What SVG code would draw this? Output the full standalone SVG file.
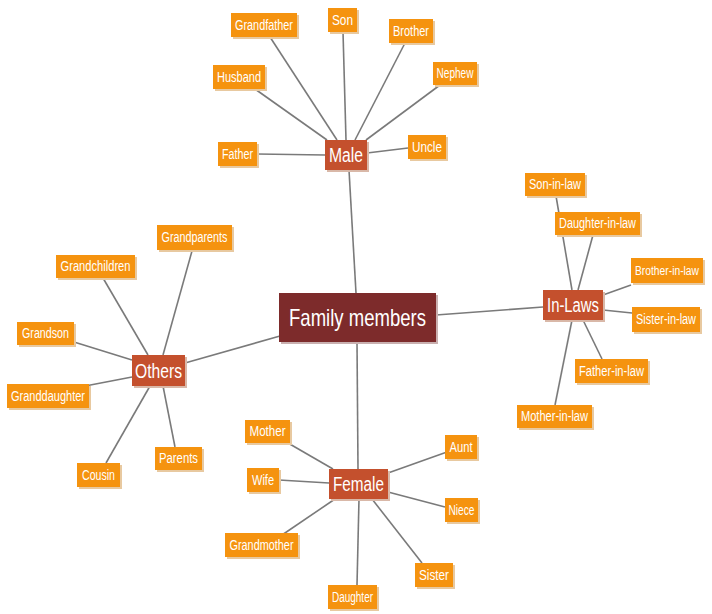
<svg xmlns="http://www.w3.org/2000/svg" width="712" height="614" viewBox="0 0 712 614">
<defs>
<style>
.leaf rect.b{fill:#F5930F;}
.leaf rect.s{fill:#E8C9A0;}
.leaf text{font-family:"Liberation Sans Narrow","Liberation Sans",Arial,sans-serif;font-size:14px;fill:#fff;text-anchor:middle;}
.hub rect.b{fill:#C4502D;}
.hub rect.s{fill:#D9B8A8;}
.hub text{font-family:"Liberation Sans Narrow","Liberation Sans",Arial,sans-serif;font-size:20px;fill:#fff;text-anchor:middle;}
.root rect.b{fill:#7D2B2B;}
.root rect.s{fill:#C9B0B0;}
.root text{font-family:"Liberation Sans Narrow","Liberation Sans",Arial,sans-serif;font-size:24px;fill:#fff;text-anchor:middle;}
#connectors line{stroke:#7A7A7A;stroke-width:1.6;}
</style>
</defs>
<rect width="712" height="614" fill="#fff"/>
<g id="connectors">
<line x1="349" y1="170" x2="356" y2="293"/>
<line x1="357" y1="342" x2="358" y2="469"/>
<line x1="185" y1="363" x2="280" y2="336"/>
<line x1="436" y1="315" x2="543" y2="307"/>
<line x1="257" y1="154" x2="325" y2="155"/>
<line x1="367" y1="153" x2="408" y2="148"/>
<line x1="270" y1="37" x2="337" y2="140"/>
<line x1="255" y1="89" x2="327" y2="140"/>
<line x1="343" y1="32" x2="346" y2="140"/>
<line x1="405" y1="43" x2="355" y2="140"/>
<line x1="440" y1="85" x2="366" y2="140"/>
<line x1="288" y1="443" x2="333" y2="469"/>
<line x1="279" y1="480" x2="329" y2="483"/>
<line x1="282" y1="535" x2="335" y2="499"/>
<line x1="357" y1="585" x2="359" y2="499"/>
<line x1="422" y1="563" x2="372" y2="499"/>
<line x1="445" y1="507" x2="388" y2="492"/>
<line x1="447" y1="452" x2="388" y2="473"/>
<line x1="192" y1="251" x2="163" y2="355"/>
<line x1="103" y1="278" x2="148" y2="355"/>
<line x1="74" y1="342" x2="132" y2="360"/>
<line x1="80" y1="387" x2="132" y2="377"/>
<line x1="106" y1="463" x2="150" y2="386"/>
<line x1="175" y1="447" x2="163" y2="386"/>
<line x1="556" y1="196" x2="572" y2="290"/>
<line x1="593" y1="235" x2="578" y2="290"/>
<line x1="631" y1="285" x2="603" y2="295"/>
<line x1="632" y1="313" x2="603" y2="310"/>
<line x1="602" y1="359" x2="583" y2="320"/>
<line x1="555" y1="405" x2="572" y2="320"/>
</g>
<g id="family-members" class="root"><rect class="s" x="281" y="295" width="157" height="49"/><rect class="b" x="279" y="293" width="157" height="49"/><text x="357.5" y="326" textLength="137" lengthAdjust="spacingAndGlyphs">Family members</text></g>
<g id="male" class="hub"><rect class="s" x="327" y="142" width="42" height="30"/><rect class="b" x="325" y="140" width="42" height="30"/><text x="346" y="162" textLength="34" lengthAdjust="spacingAndGlyphs">Male</text></g>
<g id="female" class="hub"><rect class="s" x="331" y="471" width="59" height="30"/><rect class="b" x="329" y="469" width="59" height="30"/><text x="358.5" y="491" textLength="51" lengthAdjust="spacingAndGlyphs">Female</text></g>
<g id="others" class="hub"><rect class="s" x="134" y="357" width="53" height="31"/><rect class="b" x="132" y="355" width="53" height="31"/><text x="158.5" y="378" textLength="47" lengthAdjust="spacingAndGlyphs">Others</text></g>
<g id="in-laws" class="hub"><rect class="s" x="545" y="292" width="60" height="30"/><rect class="b" x="543" y="290" width="60" height="30"/><text x="573" y="312" textLength="52" lengthAdjust="spacingAndGlyphs">In-Laws</text></g>
<g id="grandfather" class="leaf"><rect class="s" x="233" y="15" width="66" height="24"/><rect class="b" x="231" y="13" width="66" height="24"/><text x="264" y="30" textLength="58" lengthAdjust="spacingAndGlyphs">Grandfather</text></g>
<g id="son" class="leaf"><rect class="s" x="330" y="10" width="29" height="24"/><rect class="b" x="328" y="8" width="29" height="24"/><text x="342.5" y="25" textLength="21" lengthAdjust="spacingAndGlyphs">Son</text></g>
<g id="brother" class="leaf"><rect class="s" x="391" y="21" width="44" height="24"/><rect class="b" x="389" y="19" width="44" height="24"/><text x="411" y="36" textLength="36" lengthAdjust="spacingAndGlyphs">Brother</text></g>
<g id="nephew" class="leaf"><rect class="s" x="435" y="64" width="44" height="23"/><rect class="b" x="433" y="62" width="44" height="23"/><text x="455" y="78" textLength="37" lengthAdjust="spacingAndGlyphs">Nephew</text></g>
<g id="husband" class="leaf"><rect class="s" x="215" y="67" width="52" height="24"/><rect class="b" x="213" y="65" width="52" height="24"/><text x="239" y="82" textLength="44" lengthAdjust="spacingAndGlyphs">Husband</text></g>
<g id="father" class="leaf"><rect class="s" x="220" y="144" width="39" height="24"/><rect class="b" x="218" y="142" width="39" height="24"/><text x="237.5" y="159" textLength="31" lengthAdjust="spacingAndGlyphs">Father</text></g>
<g id="uncle" class="leaf"><rect class="s" x="410" y="137" width="38" height="24"/><rect class="b" x="408" y="135" width="38" height="24"/><text x="427" y="152" textLength="30" lengthAdjust="spacingAndGlyphs">Uncle</text></g>
<g id="mother" class="leaf"><rect class="s" x="247" y="422" width="45" height="23"/><rect class="b" x="245" y="420" width="45" height="23"/><text x="267.5" y="436" textLength="36" lengthAdjust="spacingAndGlyphs">Mother</text></g>
<g id="wife" class="leaf"><rect class="s" x="249" y="470" width="32" height="24"/><rect class="b" x="247" y="468" width="32" height="24"/><text x="263" y="485" textLength="22" lengthAdjust="spacingAndGlyphs">Wife</text></g>
<g id="grandmother" class="leaf"><rect class="s" x="227" y="535" width="73" height="24"/><rect class="b" x="225" y="533" width="73" height="24"/><text x="261.5" y="550" textLength="64" lengthAdjust="spacingAndGlyphs">Grandmother</text></g>
<g id="daughter" class="leaf"><rect class="s" x="330" y="587" width="49" height="24"/><rect class="b" x="328" y="585" width="49" height="24"/><text x="352.5" y="602" textLength="41" lengthAdjust="spacingAndGlyphs">Daughter</text></g>
<g id="sister" class="leaf"><rect class="s" x="417" y="565" width="38" height="24"/><rect class="b" x="415" y="563" width="38" height="24"/><text x="434" y="580" textLength="30" lengthAdjust="spacingAndGlyphs">Sister</text></g>
<g id="niece" class="leaf"><rect class="s" x="447" y="500" width="33" height="24"/><rect class="b" x="445" y="498" width="33" height="24"/><text x="461.5" y="515" textLength="26" lengthAdjust="spacingAndGlyphs">Niece</text></g>
<g id="aunt" class="leaf"><rect class="s" x="447" y="437" width="32" height="24"/><rect class="b" x="445" y="435" width="32" height="24"/><text x="461" y="452" textLength="23" lengthAdjust="spacingAndGlyphs">Aunt</text></g>
<g id="grandparents" class="leaf"><rect class="s" x="159" y="227" width="75" height="25"/><rect class="b" x="157" y="225" width="75" height="25"/><text x="194.5" y="242" textLength="66" lengthAdjust="spacingAndGlyphs">Grandparents</text></g>
<g id="grandchildren" class="leaf"><rect class="s" x="58" y="257" width="79" height="23"/><rect class="b" x="56" y="255" width="79" height="23"/><text x="95.5" y="271" textLength="70" lengthAdjust="spacingAndGlyphs">Grandchildren</text></g>
<g id="grandson" class="leaf"><rect class="s" x="19" y="324" width="57" height="23"/><rect class="b" x="17" y="322" width="57" height="23"/><text x="45.5" y="338" textLength="47" lengthAdjust="spacingAndGlyphs">Grandson</text></g>
<g id="granddaughter" class="leaf"><rect class="s" x="9" y="386" width="82" height="24"/><rect class="b" x="7" y="384" width="82" height="24"/><text x="48" y="401" textLength="74" lengthAdjust="spacingAndGlyphs">Granddaughter</text></g>
<g id="cousin" class="leaf"><rect class="s" x="79" y="465" width="43" height="24"/><rect class="b" x="77" y="463" width="43" height="24"/><text x="98.5" y="480" textLength="33" lengthAdjust="spacingAndGlyphs">Cousin</text></g>
<g id="parents" class="leaf"><rect class="s" x="157" y="449" width="47" height="23"/><rect class="b" x="155" y="447" width="47" height="23"/><text x="178.5" y="463" textLength="39" lengthAdjust="spacingAndGlyphs">Parents</text></g>
<g id="son-in-law" class="leaf"><rect class="s" x="527" y="175" width="60" height="23"/><rect class="b" x="525" y="173" width="60" height="23"/><text x="555" y="189" textLength="52" lengthAdjust="spacingAndGlyphs">Son-in-law</text></g>
<g id="daughter-in-law" class="leaf"><rect class="s" x="557" y="214" width="85" height="23"/><rect class="b" x="555" y="212" width="85" height="23"/><text x="597.5" y="228" textLength="77" lengthAdjust="spacingAndGlyphs">Daughter-in-law</text></g>
<g id="brother-in-law" class="leaf"><rect class="s" x="633" y="260" width="72" height="25"/><rect class="b" x="631" y="258" width="72" height="25"/><text x="667" y="275" style="font-size:12px" textLength="64" lengthAdjust="spacingAndGlyphs">Brother-in-law</text></g>
<g id="sister-in-law" class="leaf"><rect class="s" x="634" y="309" width="68" height="25"/><rect class="b" x="632" y="307" width="68" height="25"/><text x="666" y="324" textLength="60" lengthAdjust="spacingAndGlyphs">Sister-in-law</text></g>
<g id="father-in-law" class="leaf"><rect class="s" x="577" y="361" width="73" height="24"/><rect class="b" x="575" y="359" width="73" height="24"/><text x="611.5" y="376" textLength="65" lengthAdjust="spacingAndGlyphs">Father-in-law</text></g>
<g id="mother-in-law" class="leaf"><rect class="s" x="519" y="407" width="75" height="23"/><rect class="b" x="517" y="405" width="75" height="23"/><text x="554.5" y="421" textLength="67" lengthAdjust="spacingAndGlyphs">Mother-in-law</text></g>
</svg>
